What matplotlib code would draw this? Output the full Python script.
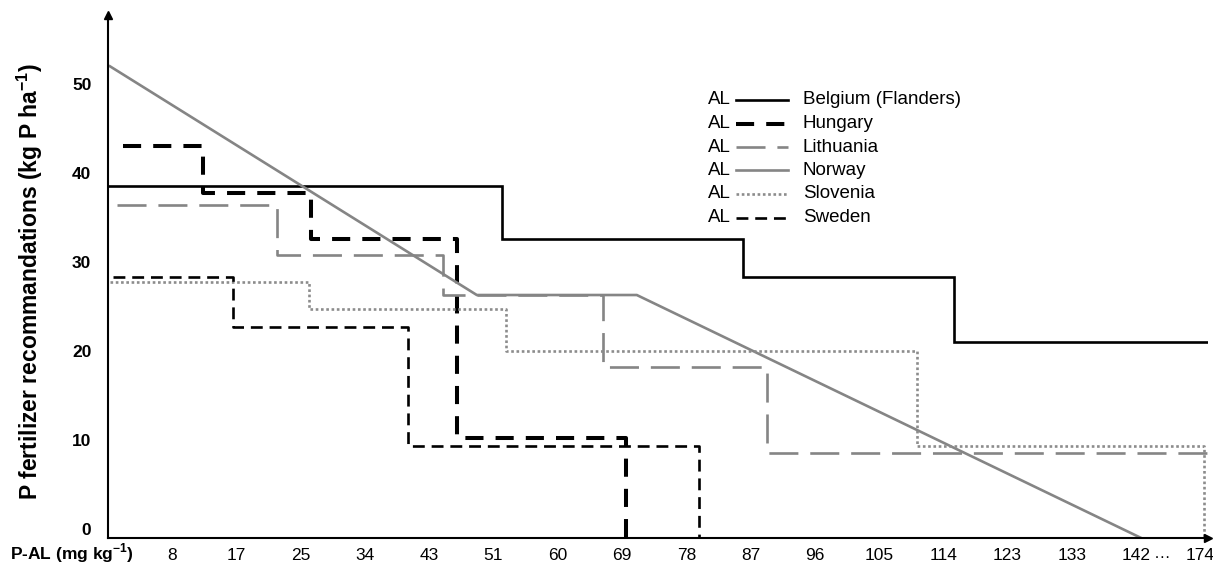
import matplotlib
matplotlib.use("Agg")
import matplotlib.pyplot as plt
from matplotlib.lines import Line2D

plt.rcParams["font.family"] = ["Liberation Sans", "DejaVu Sans"]
plt.rcParams["mathtext.fontset"] = "custom"
plt.rcParams["mathtext.rm"] = "Liberation Sans"
plt.rcParams["mathtext.bf"] = "Liberation Sans:bold"

# x is in tick-slot units: slot k sits under the k-th P-AL label
x_labels = ["8", "17", "25", "34", "43", "51", "60", "69", "78", "87",
            "96", "105", "114", "123", "133", "142", "174"]
x_ticks = list(range(1, len(x_labels) + 1))
y_ticks = [0, 10, 20, 30, 40, 50]

countries = ["Belgium (Flanders)", "Hungary", "Lithuania", "Norway", "Slovenia", "Sweden"]

belgium_x = [0.0, 6.13, 9.88, 13.17, 17.3]
belgium_y = [39.5, 33.6, 29.3, 22.0, 22.0]

hungary_x = [0.23, 1.48, 3.16, 5.43, 8.06]
hungary_y = [44.0, 38.8, 33.6, 11.2, 0.0]

lithuania_x = [0.14, 2.63, 5.21, 7.71, 10.26, 17.3]
lithuania_y = [37.4, 31.8, 27.3, 19.2, 9.6, 9.6]

norway_x = [0.03, 5.74, 8.23, 16.08]
norway_y = [53.0, 27.3, 27.3, 0.0]

slovenia_x = [0.03, 3.13, 6.2, 12.59, 17.06]
slovenia_y = [28.8, 25.7, 21.0, 10.3, 0.0]

sweden_x = [0.08, 1.95, 4.67, 9.2]
sweden_y = [29.3, 23.7, 10.3, 0.0]

GRAY = "#858585"
styles = {
    "Belgium (Flanders)": dict(color="black", lw=1.9, linestyle="-"),
    "Hungary": dict(color="black", lw=2.9, linestyle=(0, (4.5, 3))),
    "Lithuania": dict(color=GRAY, lw=1.9, linestyle=(0, (11, 4.5))),
    "Norway": dict(color=GRAY, lw=1.9, linestyle="-"),
    "Slovenia": dict(color="#8c8c8c", lw=1.9, linestyle=(0, (1, 1))),
    "Sweden": dict(color="black", lw=1.9, linestyle=(0, (4.5, 2.6))),
}
series = {
    "Belgium (Flanders)": (belgium_x, belgium_y, "steps-post"),
    "Hungary": (hungary_x, hungary_y, "steps-post"),
    "Lithuania": (lithuania_x, lithuania_y, "steps-post"),
    "Norway": (norway_x, norway_y, "default"),
    "Slovenia": (slovenia_x, slovenia_y, "steps-post"),
    "Sweden": (sweden_x, sweden_y, "steps-post"),
}

W, H = 1213, 564
fig = plt.figure(figsize=(W / 100, H / 100), dpi=100)
ax = fig.add_axes([108 / W, (H - 538) / H, 1100 / W, 523 / H])

for name in countries:
    xs, ys, ds = series[name]
    ax.plot(xs, ys, drawstyle=ds, solid_joinstyle="miter",
            dash_capstyle="butt", **styles[name])

ax.set_xlim(0, 17.12)
ax.set_ylim(0, 58.76)
for side in ("top", "right"):
    ax.spines[side].set_visible(False)
for side in ("left", "bottom"):
    ax.spines[side].set_linewidth(1.5)
    ax.spines[side].set_color("black")

# arrow heads at the axis ends
ax.plot(1, 0, ">", color="black", ms=6, transform=ax.transAxes, clip_on=False)
ax.plot(0, 1, "^", color="black", ms=6, transform=ax.transAxes, clip_on=False)

ax.set_xticks(x_ticks, x_labels)
ax.set_yticks(y_ticks)
ax.tick_params(axis="x", length=0, pad=7, labelsize=12.5)
ax.tick_params(axis="y", length=0, pad=12, labelsize=12.5)
for lab in ax.get_yticklabels():
    lab.set_fontweight("bold")
    lab.set_verticalalignment("bottom")

ax.text(16.4, -0.029, "\u2026", transform=ax.get_xaxis_transform(),
        ha="center", va="center", fontsize=12)

fig.text(10 / W, 1 - 553 / H, r"P-AL (mg kg$^{\mathbf{-1}}$)",
         fontweight="bold", fontsize=12.5, ha="left", va="center")
fig.text(30 / W, 1 - 282 / H, r"P fertilizer recommandations (kg P ha$^{\mathbf{-1}}$)",
         fontweight="bold", fontsize=16.5, rotation=90, ha="center", va="center")

# legend drawn by hand: "AL" on the left of each sample line
for i, name in enumerate(countries):
    fy = 1 - (100 + 23.5 * i) / H
    fig.text(731 / W, fy, "AL", fontsize=13.5, ha="right", va="center")
    fig.add_artist(Line2D([736 / W, 788 / W], [fy, fy], transform=fig.transFigure,
                          dash_capstyle="butt", **styles[name]))
    fig.text(803 / W, fy, name, fontsize=13.5, ha="left", va="center")

fig.savefig("out.png", dpi=100)
